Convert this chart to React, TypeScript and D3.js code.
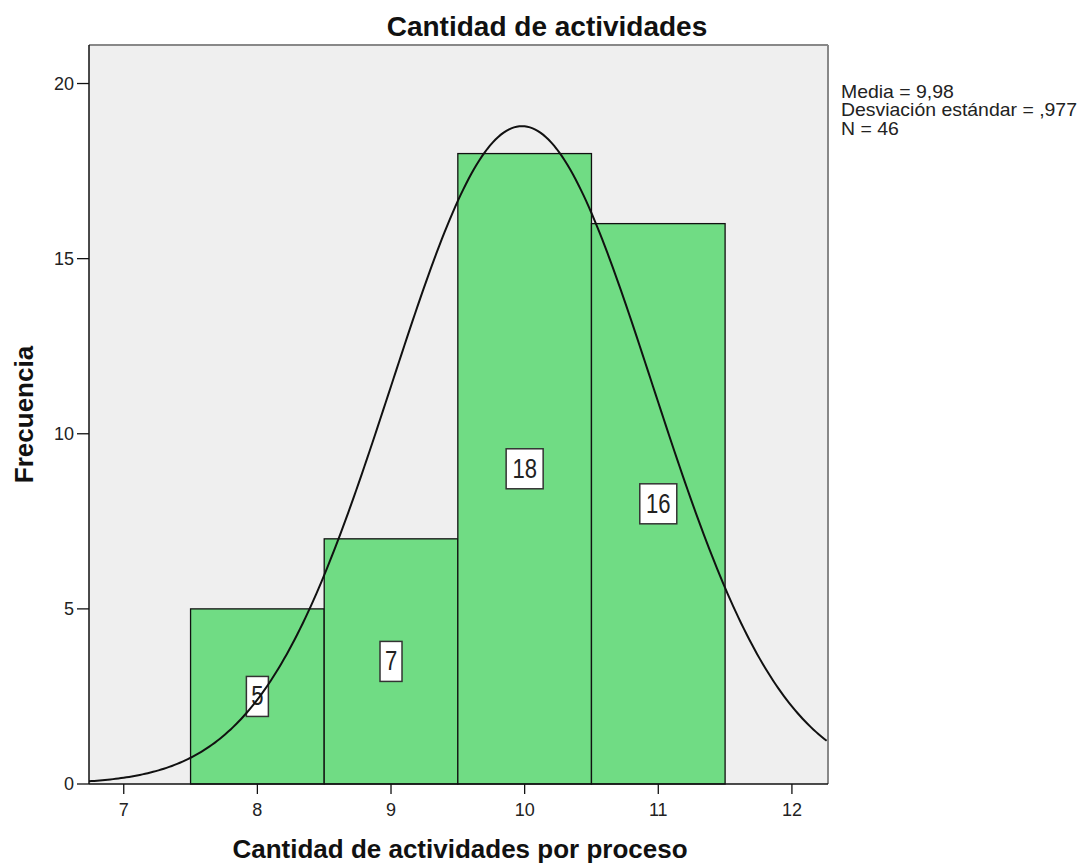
import { useMemo } from 'react'
import * as d3 from 'd3'

// Histogram bins (center value) and frequencies
const BIN_CENTERS = [8, 9, 10, 11]
const FREQUENCIES = [5, 7, 18, 16]
const X_TICKS = [7, 8, 9, 10, 11, 12]
const Y_TICKS = [0, 5, 10, 15, 20]

// Summary statistics shown at right
const MEAN = 9.98
const STD_DEV = 0.977
const N = 46
const STATS_LINES = ['Media = 9,98', 'Desviación estándar = ,977', 'N = 46']

const WIDTH = 1089
const HEIGHT = 866
const PLOT = { left: 89, right: 828, top: 45, bottom: 784 }
const FONT = '"Liberation Sans", Arial, sans-serif'

export default function App() {
  const x = useMemo(
    () => d3.scaleLinear().domain([6.74, 12.27]).range([PLOT.left, PLOT.right]),
    []
  )
  const y = useMemo(
    () => d3.scaleLinear().domain([0, 21.1]).range([PLOT.bottom, PLOT.top]),
    []
  )

  // fitted normal curve, scaled to counts (bin width 1)
  const curve = useMemo(() => {
    const pts = d3.range(6.74, 12.2701, 0.02).map(v => {
      const z = (v - MEAN) / STD_DEV
      return [v, (N / (STD_DEV * Math.sqrt(2 * Math.PI))) * Math.exp(-0.5 * z * z)] as [number, number]
    })
    return d3.line<[number, number]>()
      .x(d => x(d[0]))
      .y(d => y(d[1]))(pts) || ''
  }, [x, y])

  return (
    <svg width={WIDTH} height={HEIGHT} style={{ position: 'absolute', left: 0, top: 0, fontFamily: FONT }}>
      <rect x={0} y={0} width={WIDTH} height={HEIGHT} fill="#fff" />
      <text x={547} y={36} textAnchor="middle" fontSize={28} fontWeight="bold" fill="#111">
        Cantidad de actividades
      </text>

      <defs>
        <clipPath id="plot-clip">
          <rect x={PLOT.left} y={PLOT.top} width={PLOT.right - PLOT.left} height={PLOT.bottom - PLOT.top} />
        </clipPath>
      </defs>

      <rect x={PLOT.left} y={PLOT.top} width={PLOT.right - PLOT.left} height={PLOT.bottom - PLOT.top} fill="#efefef" />

      {/* bars */}
      {BIN_CENTERS.map((c, i) => (
        <rect
          key={`bar-${c}`}
          x={x(c - 0.5)}
          y={y(FREQUENCIES[i])}
          width={x(c + 0.5) - x(c - 0.5)}
          height={y(0) - y(FREQUENCIES[i])}
          fill="#70dc84"
          stroke="#111"
          strokeWidth={1.3}
        />
      ))}

      {/* value labels */}
      {BIN_CENTERS.map((c, i) => {
        const label = String(FREQUENCIES[i])
        const w = label.length === 1 ? 22 : 37
        const h = 40
        const cx = x(c)
        const cy = y(FREQUENCIES[i] / 2)
        return (
          <g key={`lbl-${c}`}>
            <rect x={cx - w / 2} y={cy - h / 2} width={w} height={h} fill="#fff" stroke="#333" strokeWidth={1.5} />
            <text
              transform={`translate(${cx}, ${cy + 9}) scale(0.92, 1.12)`}
              textAnchor="middle"
              fontSize={24}
              fill="#222"
            >
              {label}
            </text>
          </g>
        )
      })}

      {/* normal curve */}
      <path d={curve} fill="none" stroke="#111" strokeWidth={2} clipPath="url(#plot-clip)" />

      {/* frame */}
      <line x1={PLOT.left} x2={PLOT.right} y1={PLOT.top} y2={PLOT.top} stroke="#888" strokeWidth={2} />
      <line x1={PLOT.right} x2={PLOT.right} y1={PLOT.top} y2={PLOT.bottom} stroke="#888" strokeWidth={2} />
      <line x1={PLOT.left} x2={PLOT.left} y1={PLOT.top} y2={PLOT.bottom} stroke="#111" strokeWidth={1.5} />
      <line x1={PLOT.left} x2={PLOT.right} y1={PLOT.bottom} y2={PLOT.bottom} stroke="#111" strokeWidth={1.5} />

      {/* y axis */}
      {Y_TICKS.map(t => (
        <g key={`yt-${t}`}>
          <line x1={PLOT.left - 12} x2={PLOT.left} y1={y(t)} y2={y(t)} stroke="#111" strokeWidth={1.3} />
          <text x={PLOT.left - 15} y={y(t)} textAnchor="end" dominantBaseline="central" fontSize={18} fill="#222">
            {t}
          </text>
        </g>
      ))}

      {/* x axis */}
      {X_TICKS.map(t => (
        <g key={`xt-${t}`}>
          <line x1={x(t)} x2={x(t)} y1={PLOT.bottom} y2={PLOT.bottom + 10} stroke="#111" strokeWidth={1.3} />
          <text x={x(t)} y={PLOT.bottom + 32} textAnchor="middle" fontSize={18} fill="#222">
            {t}
          </text>
        </g>
      ))}

      <text x={460} y={858} textAnchor="middle" fontSize={26} fontWeight="bold" fill="#111">
        Cantidad de actividades por proceso
      </text>
      <text
        transform={`translate(33, ${(PLOT.top + PLOT.bottom) / 2}) rotate(-90)`}
        textAnchor="middle"
        fontSize={26}
        fontWeight="bold"
        fill="#111"
      >
        Frecuencia
      </text>

      <g transform="translate(841, 0) scale(1.08, 1)">
        {STATS_LINES.map((s, i) => (
          <text key={s} x={0} y={98 + i * 18.5} fontSize={18} fill="#222">
            {s}
          </text>
        ))}
      </g>
    </svg>
  )
}
